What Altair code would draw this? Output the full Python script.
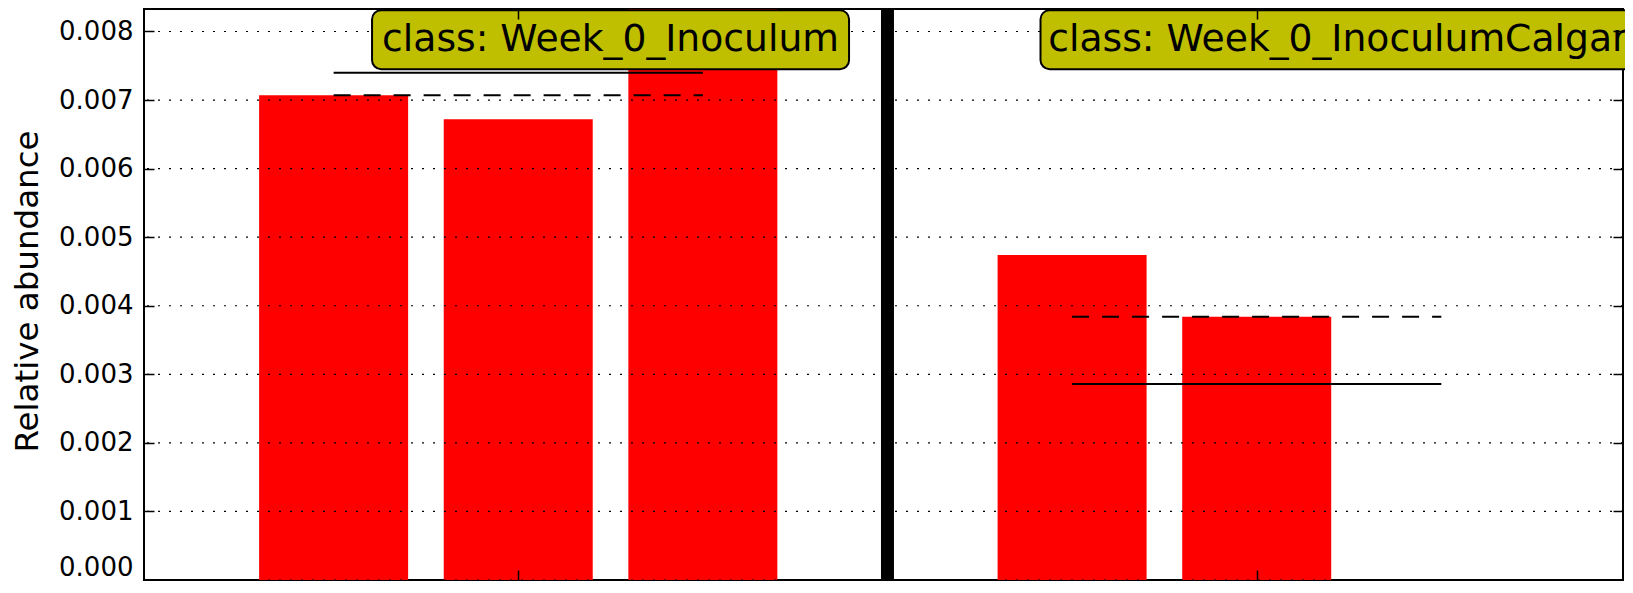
import altair as alt
import pandas as pd

# ---- data ----
classes = ["Week_0_Inoculum", "Week_0_InoculumCalgary"]
inoculum_values = [0.00707, 0.00672, 0.00841]
calgary_values = [0.00474, 0.00384, 0.0]
y_tick_values = [0.000, 0.001, 0.002, 0.003, 0.004, 0.005, 0.006, 0.007, 0.008]
x_tick_values = [1, 5]
y_title = "Relative abundance"
label_prefix = "class: "
label_anchor_x = [1.5, 5.5]
label_anchor_y = 0.00788
separator_x = [3]

# ---- tables built from the lists ----
groups = [inoculum_values, calgary_values]
rows = []
for ci, (cls, vals) in enumerate(zip(classes, groups)):
    for j, v in enumerate(vals):
        rows.append({"cls": cls, "pos": ci * (len(vals) + 1) + j, "value": v})
bars_df = pd.DataFrame(rows)
grid_df = pd.DataFrame({"tick": y_tick_values})
sep_df = pd.DataFrame({"x": separator_x})
labels = [label_prefix + c for c in classes]

# ---- styles / layout ----
FONT = "DejaVu Sans"
W, H = 1479, 571
BOX_W = [477, 617]
BOX_H = 59
xs = alt.Scale(domain=[-1, 6.957], nice=False, zero=False)
ys = alt.Scale(domain=[0, 0.008328], nice=False, zero=True)

bars = alt.Chart(bars_df).mark_bar(color="#ff0000", width=149, clip=True).encode(
    x=alt.X("pos:Q", scale=xs, axis=alt.Axis(
        orient="bottom", values=x_tick_values, labels=False, title=None,
        domain=False, grid=False, ticks=True, tickSize=10, offset=-10,
        tickColor="black", tickWidth=1.5, zindex=1)),
    y=alt.Y("value:Q", scale=ys, axis=alt.Axis(
        orient="left", values=y_tick_values, format=".3f", title=y_title,
        domain=False, grid=False, ticks=True, tickSize=10, offset=-10,
        tickColor="black", tickWidth=1.5, labelPadding=11, labelFontSize=26,
        labelColor="black", labelFont=FONT, labelFlush=True, labelOverlap=False,
        titleFont=FONT, titleFontSize=32.5,
        titleFontWeight="normal", titleColor="black", titleAngle=270,
        titleBaseline="alphabetic", titleAlign="center", titleX=-117, titleY=282,
        zindex=1)),
)

grid = alt.Chart(grid_df).mark_rule(color="black", strokeWidth=1.2, strokeDash=[2, 9]).encode(
    y=alt.Y("tick:Q", scale=ys, axis=None)
)

median = alt.Chart(bars_df).mark_rule(color="black", strokeWidth=2, strokeDash=[17, 13]).encode(
    x=alt.X("min(pos):Q", scale=xs, axis=None),
    x2=alt.X2("max(pos)"),
    y=alt.Y("median(value):Q", scale=ys, axis=None),
    detail="cls:N",
)

mean = alt.Chart(bars_df).mark_rule(color="black", strokeWidth=2).encode(
    x=alt.X("min(pos):Q", scale=xs, axis=alt.Axis(
        orient="top", values=x_tick_values, labels=False, title=None,
        domain=False, grid=False, ticks=True, tickSize=10, offset=-10,
        tickColor="black", tickWidth=1.5, zindex=1)),
    x2=alt.X2("max(pos)"),
    y=alt.Y("mean(value):Q", scale=ys, axis=alt.Axis(
        orient="right", values=y_tick_values, labels=False, title=None,
        domain=False, grid=False, ticks=True, tickSize=10, offset=-10,
        tickColor="black", tickWidth=1.5, zindex=1)),
    detail="cls:N",
)

sep = alt.Chart(sep_df).mark_rule(color="black", strokeWidth=13).encode(
    x=alt.X("x:Q", scale=xs, axis=None)
)

layers = [bars, grid, median, mean, sep]
for lab, lx, bw in zip(labels, label_anchor_x, BOX_W):
    one = pd.DataFrame({"label": [lab], "x": [lx], "y": [label_anchor_y]})
    layers.append(
        alt.Chart(one).mark_rect(width=bw, height=BOX_H, cornerRadius=9, fill="#bfbf00",
                                 stroke="black", strokeWidth=2).encode(
            x=alt.X("x:Q", scale=xs, axis=None),
            y=alt.Y("y:Q", scale=ys, axis=None),
        )
    )
labels_df = pd.DataFrame({"label": labels, "x": label_anchor_x, "y": [label_anchor_y] * len(labels)})
text = alt.Chart(labels_df).mark_text(font=FONT, fontSize=37.7, color="black", align="center",
                                      baseline="middle").encode(
    x=alt.X("x:Q", scale=xs, axis=None),
    y=alt.Y("y:Q", scale=ys, axis=None),
    text="label:N",
)
layers.append(text)

chart = alt.layer(*layers).resolve_axis(x="independent", y="independent").properties(
    width=W, height=H,
    padding={"left": 136, "top": 1, "right": 2, "bottom": 1},
    autosize=alt.AutoSizeParams(type="none"),
).configure(font=FONT).configure_view(stroke="black", strokeWidth=2)

chart.save("out.html", embed_options={"renderer": "svg", "actions": False})
